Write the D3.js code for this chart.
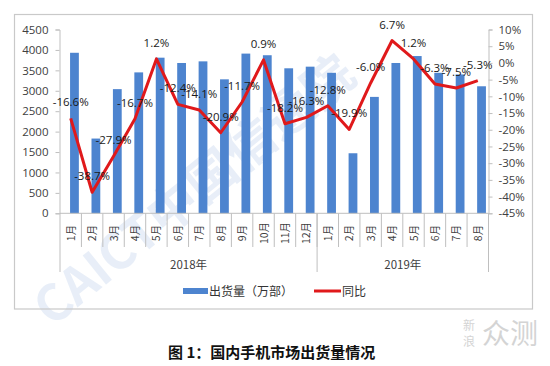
<!DOCTYPE html>
<html>
<head>
<meta charset="utf-8">
<script src="https://cdn.jsdelivr.net/npm/d3@7"></script>
<style>
  html, body { margin: 0; padding: 0; background: #ffffff; }
  svg { display: block; }
</style>
</head>
<body>
<div id="chart"></div>
<script>
// ---- data ----
const months = ["1月","2月","3月","4月","5月","6月","7月","8月","9月","10月","11月","12月",
                "1月","2月","3月","4月","5月","6月","7月","8月"];
const years = ["2018年", "2019年"];
const yearMonthCounts = [12, 8];
const shipments = [3930, 1830, 3040, 3450, 3810, 3680, 3720, 3280, 3910, 3870, 3550, 3590,
                   3440, 1470, 2850, 3680, 3850, 3440, 3400, 3110];
const yoy = [-16.6, -38.7, -27.9, -16.7, 1.2, -12.4, -14.1, -20.9, -11.7, 0.9, -18.2, -16.3,
             -12.8, -19.9, -6.0, 6.7, 1.2, -6.3, -7.5, -5.3];
const leftTicks = [0, 500, 1000, 1500, 2000, 2500, 3000, 3500, 4000, 4500];
const rightTicks = [-45, -40, -35, -30, -25, -20, -15, -10, -5, 0, 5, 10];
const legendLabels = ["出货量（万部）", "同比"];
const titleText = "图 1：国内手机市场出货量情况";

// ---- layout ----
const W = 550, H = 366;
const plotL = 60, plotR = 488.5, plotT = 29.5, plotB = 213.3;
const barBlue = "#4d84cf", lineRed = "#e0191b", axisGray = "#bfbfbf";
const tickFont = "'Open Sans', 'Liberation Sans', sans-serif";

const svg = d3.select("#chart").append("svg").attr("width", W).attr("height", H);

// watermark (faint)
const wm = svg.append("g").attr("transform", "translate(52,328) rotate(-39)");
wm.append("text").text("CAICT中国信通院")
  .attr("font-family", "'Noto Sans CJK SC', 'DejaVu Sans', sans-serif")
  .attr("font-weight", "bold").attr("font-size", 50)
  .attr("fill", "#d9e4f4").attr("opacity", 0.6);

// frame
svg.append("rect").attr("x", 14.5).attr("y", 14.5).attr("width", 518).attr("height", 294.5)
  .attr("fill", "none").attr("stroke", "#c9c9c9").attr("stroke-width", 1.2);

const idx = d3.range(months.length);
const x = d3.scaleBand().domain(idx).range([plotL, plotR]).padding(0);
const yL = d3.scaleLinear().domain([0, 4500]).range([plotB, plotT]);
const yR = d3.scaleLinear().domain([-45, 10]).range([plotB, plotT]);
const bw = x.bandwidth();

// bars (offset to the right half of the category, like a clustered Excel chart)
svg.append("g").selectAll("rect").data(shipments).join("rect")
  .attr("x", (d, i) => x(i) + bw * 0.47)
  .attr("y", d => yL(d))
  .attr("width", bw * 0.41)
  .attr("height", d => plotB - yL(d))
  .attr("fill", barBlue);

// left axis
const gL = svg.append("g").attr("transform", `translate(${plotL - 0.5},0)`)
  .call(d3.axisLeft(yL).tickValues(leftTicks).tickSize(4).tickPadding(7).tickFormat(d3.format("d")));
gL.select(".domain").attr("stroke", axisGray);
gL.selectAll(".tick line").attr("stroke", axisGray);
gL.selectAll("text").attr("font-family", tickFont).attr("font-size", 11.5).attr("fill", "#404040");

// right axis
const gR = svg.append("g").attr("transform", `translate(${plotR},0)`)
  .call(d3.axisRight(yR).tickValues(rightTicks).tickSize(4).tickPadding(6).tickFormat(d => d + "%"));
gR.select(".domain").attr("stroke", axisGray);
gR.selectAll(".tick line").attr("stroke", axisGray);
gR.selectAll("text").attr("font-family", tickFont).attr("font-size", 11.5).attr("fill", "#404040");

// category axis (two levels)
const gx = svg.append("g");
gx.append("line").attr("x1", plotL).attr("x2", plotR).attr("y1", plotB).attr("y2", plotB)
  .attr("stroke", axisGray).attr("stroke-width", 1);
idx.forEach(i => {
  gx.append("line").attr("x1", x(i) + bw).attr("x2", x(i) + bw)
    .attr("y1", plotB).attr("y2", 247).attr("stroke", axisGray);
});
// year separators
let acc = 0;
const yearBounds = [0];
yearMonthCounts.forEach(c => { acc += c; yearBounds.push(acc); });
yearBounds.forEach(b => {
  const xx = b === months.length ? plotR : x(b);
  gx.append("line").attr("x1", xx).attr("x2", xx).attr("y1", plotB).attr("y2", 272)
    .attr("stroke", axisGray);
});
// month labels (rotated)
gx.selectAll("text.m").data(months).join("text").attr("class", "m")
  .attr("transform", (d, i) => `translate(${x(i) + bw / 2 + 4},233) rotate(-90)`)
  .attr("text-anchor", "middle")
  .attr("font-family", "'Noto Sans CJK SC', sans-serif").attr("font-size", 10.5)
  .attr("fill", "#404040").text(d => d);
// year labels
years.forEach((yv, k) => {
  const x0 = x(yearBounds[k]);
  const x1 = yearBounds[k + 1] === months.length ? plotR : x(yearBounds[k + 1]);
  gx.append("text").attr("x", (x0 + x1) / 2).attr("y", 269)
    .attr("text-anchor", "middle")
    .attr("font-family", "'Noto Sans CJK SC', sans-serif").attr("font-size", 11.5)
    .attr("fill", "#404040").text(yv);
});

// line
const line = d3.line().x((d, i) => x(i) + bw / 2).y(d => yR(d));
svg.append("path").datum(yoy).attr("d", line)
  .attr("fill", "none").attr("stroke", lineRed).attr("stroke-width", 3)
  .attr("stroke-linejoin", "round");

// data labels
svg.append("g").selectAll("text").data(yoy).join("text")
  .attr("x", (d, i) => x(i) + bw / 2)
  .attr("y", d => yR(d) - 12)
  .attr("text-anchor", "middle")
  .attr("font-family", tickFont).attr("font-size", 11.5)
  .attr("fill", "#1a1a1a")
  .text(d => d.toFixed(1) + "%");

// legend
const lg = svg.append("g");
lg.append("rect").attr("x", 183).attr("y", 288).attr("width", 25).attr("height", 6).attr("fill", barBlue);
lg.append("text").attr("x", 209).attr("y", 295.5).text(legendLabels[0])
  .attr("font-family", "'Noto Sans CJK SC', sans-serif").attr("font-size", 12).attr("fill", "#333");
lg.append("line").attr("x1", 314).attr("x2", 341).attr("y1", 291).attr("y2", 291)
  .attr("stroke", lineRed).attr("stroke-width", 3);
lg.append("text").attr("x", 342).attr("y", 295.5).text(legendLabels[1])
  .attr("font-family", "'Noto Sans CJK SC', sans-serif").attr("font-size", 12).attr("fill", "#333");

// title
svg.append("text").attr("x", 168).attr("y", 358).text(titleText)
  .attr("font-family", "'Noto Sans CJK SC', sans-serif").attr("font-weight", "bold")
  .attr("font-size", 15).attr("fill", "#111");

// corner mark
const cm = svg.append("g").attr("fill", "#d4d4d4").attr("font-family", "'Noto Sans CJK SC', sans-serif");
cm.append("text").attr("x", 463).attr("y", 330).attr("font-size", 12).text("新");
cm.append("text").attr("x", 463).attr("y", 346).attr("font-size", 12).text("浪");
cm.append("text").attr("x", 482).attr("y", 344).attr("font-size", 28).text("众测");
</script>
</body>
</html>
